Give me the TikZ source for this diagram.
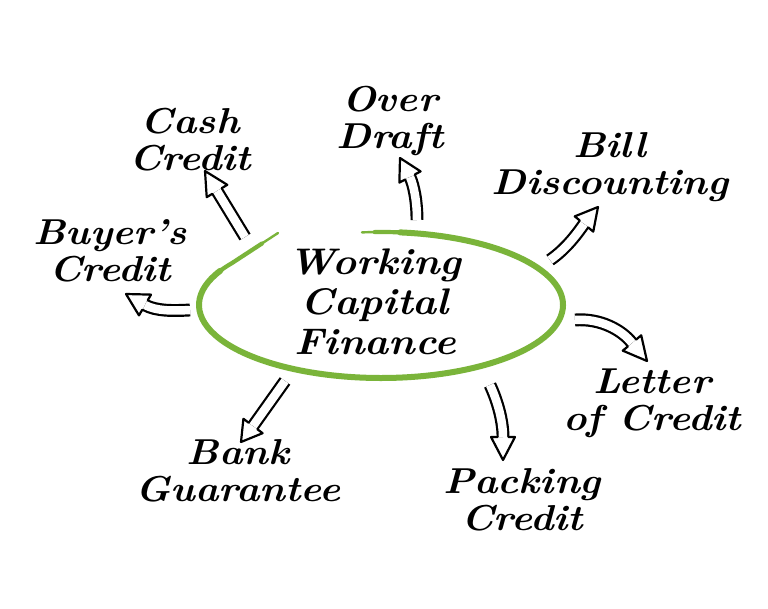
\documentclass[tikz,border=0pt]{standalone}
\usepackage{graphicx}
\usetikzlibrary{calc}
\definecolor{wcgreen}{RGB}{122,180,58}
\newcommand{\hw}[1]{\scalebox{1.1}[1]{#1}}
\newcommand{\ahead}[2]{\draw[headline] ($(#1)!5.5pt!90:(#2)$) -- ($(#1)!12pt!90:(#2)$) -- (#2) -- ($(#1)!12pt!-90:(#2)$) -- ($(#1)!5.5pt!-90:(#2)$);}
\tikzset{
  lbl/.style={font=\fontsize{36}{37}\selectfont\bfseries\itshape, align=center, inner sep=0pt},
  shaft/.style={line width=2.2pt, double=white, double distance=8.5pt, line cap=butt},
  headline/.style={line width=2.2pt, line join=round, line cap=round},
  ring/.style={draw=wcgreen, line cap=round}
}
\begin{document}
\begin{tikzpicture}[x=1pt,y=-1pt]
\useasboundingbox[fill=white] (0,0) rectangle (768,609);

% central hand-drawn ellipse
\coordinate (ec) at (381,305);
\draw[ring, line width=2.4pt] (ec) ++(96:182pt and 73pt) arc[start angle=96, end angle=-215, x radius=182pt, y radius=73pt] -- (278,233);
\draw[ring, line width=4.2pt] (ec) ++(92:182pt and 73pt) arc[start angle=92, end angle=-215, x radius=182pt, y radius=73pt] -- (262,243.5);
\draw[ring, line width=6pt] (ec) ++(84:182pt and 73pt) arc[start angle=84, end angle=-208, x radius=182pt, y radius=73pt];

\node[lbl, font=\fontsize{37}{40}\selectfont\bfseries\itshape] (wcf) at (375,302) {\hw{Working}\\\hw{Capital}\\\hw{Finance}};

\node[lbl] (cash) at (190,140) {\hw{Cash}\\\hw{Credit}};
\node[lbl] (over) at (390,121) {\hw{Over}\\\hw{Draft}};
\node[lbl] (bill) at (610,167) {\hw{Bill}\\\hw{Discounting}};
\node[lbl] (buyer) at (110,251) {\hw{Buyer's}\\\hw{Credit}};
\node[lbl] (bank) at (238,471) {\hw{Bank}\\\hw{Guarantee}};
\node[lbl] (pack) at (522,500) {\hw{Packing}\\\hw{Credit}};
\node[lbl] (letter) at (652,403) {\hw{Letter}\\\hw{of Credit}};

% arrow coordinates: tail, head base, tip
\coordinate (t1) at (245,237); \coordinate (b1) at (217,191); \coordinate (h1) at (205,171);
\coordinate (t2) at (417,220); \coordinate (b2) at (410,177); \coordinate (h2) at (400,158);
\coordinate (t3) at (550,260); \coordinate (b3) at (584,224); \coordinate (h3) at (598,207);
\coordinate (t4) at (190,310); \coordinate (b4) at (145,305); \coordinate (h4) at (126,294);
\coordinate (t5) at (575,320); \coordinate (b5) at (632,343); \coordinate (h5) at (647,361);
\coordinate (t6) at (490,385); \coordinate (b6) at (503,437); \coordinate (h6) at (503,460);
\coordinate (t7) at (285,381); \coordinate (b7) at (253,426); \coordinate (h7) at (241,442);

\draw[shaft] (t1) -- (b1); \ahead{b1}{h1}
\draw[shaft] (t2) .. controls (417,202) and (414,186) .. (b2); \ahead{b2}{h2}
\draw[shaft] (t3) .. controls (566,249) and (577,234) .. (b3); \ahead{b3}{h3}
\draw[shaft] (t4) .. controls (172,311) and (156,311) .. (b4); \ahead{b4}{h4}
\draw[shaft] (t5) .. controls (600,318) and (622,330) .. (b5); \ahead{b5}{h5}
\draw[shaft] (t6) .. controls (497,400) and (503,420) .. (b6); \ahead{b6}{h6}
\draw[shaft] (t7) -- (b7); \ahead{b7}{h7}
\end{tikzpicture}
\end{document}
